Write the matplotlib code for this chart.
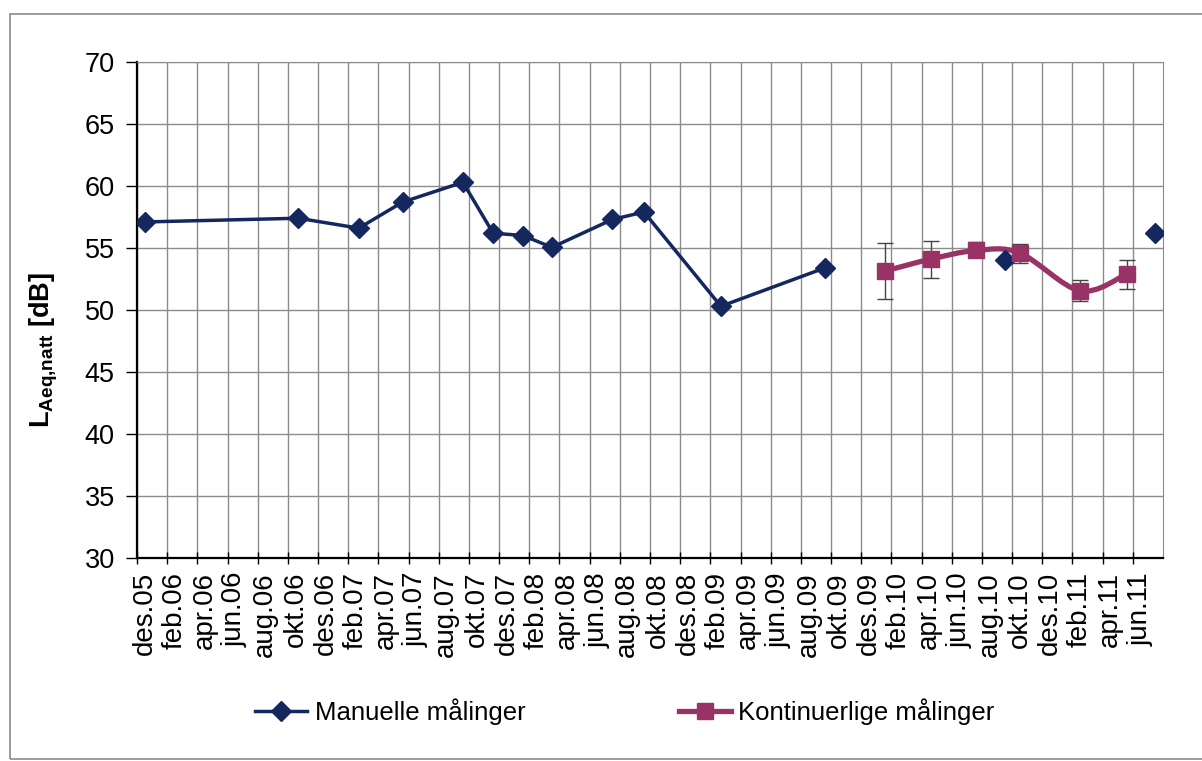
import numpy as np
import matplotlib
matplotlib.use('Agg')
import matplotlib.pyplot as plt
from matplotlib.path import Path
from matplotlib.patches import PathPatch, Rectangle
from matplotlib.lines import Line2D

plt.rcParams['font.family'] = ['Liberation Sans', 'DejaVu Sans']
plt.rcParams['mathtext.fontset'] = 'custom'
plt.rcParams['mathtext.bf'] = 'Liberation Sans:bold'
plt.rcParams['mathtext.rm'] = 'Liberation Sans'

# x = months since 1 Dec 2005
man_x = [0.5, 10.7, 14.7, 17.6, 21.6, 23.6, 25.6, 27.5, 31.5, 33.6, 38.7, 45.6, np.nan, 57.5, np.nan, 67.5]
man_y = [57.1, 57.4, 56.6, 58.7, 60.3, 56.2, 56.0, 55.05, 57.3, 57.9, 50.3, 53.4, np.nan, 54.0, np.nan, 56.2]

kont_x = [49.6, 52.6, 55.6, 58.5, 62.5, 65.6]
kont_y = [53.15, 54.1, 54.8, 54.6, 51.55, 52.9]
kont_hi = [55.4, 55.6, 55.5, 55.3, 52.4, 54.0]
kont_lo = [50.9, 52.6, 54.4, 53.8, 50.75, 51.7]

xlabels = ['des.05', 'feb.06', 'apr.06', 'jun.06', 'aug.06', 'okt.06',
           'des.06', 'feb.07', 'apr.07', 'jun.07', 'aug.07', 'okt.07',
           'des.07', 'feb.08', 'apr.08', 'jun.08', 'aug.08', 'okt.08',
           'des.08', 'feb.09', 'apr.09', 'jun.09', 'aug.09', 'okt.09',
           'des.09', 'feb.10', 'apr.10', 'jun.10', 'aug.10', 'okt.10',
           'des.10', 'feb.11', 'apr.11', 'jun.11']

blue = '#15275f'
plum = '#993366'

fig = plt.figure(figsize=[12.02, 7.61], dpi=100)
ax = fig.add_axes([137/1202, 1-558/761, 1026/1202, 496/761])

# outer chart frame
fig.patches.append(Rectangle((10/1202, 2/761), 1.05, 745/761, transform=fig.transFigure,
                             fill=False, ec='#8a8a8a', lw=1.2))

ax.set_xlim(0, 68)
ax.set_ylim(30, 70)
ax.set_yticks(np.arange(30, 71, 5))
ax.set_xticks(np.arange(0, 68, 2), minor=True)
ax.set_xticks(np.arange(0, 68, 2) + 0.5)
ax.set_xticklabels(xlabels, rotation=90)
ax.tick_params(axis='x', which='major', length=0, labelsize=20, pad=10)
ax.tick_params(axis='x', which='minor', length=8, direction='inout', width=1)
ax.tick_params(axis='y', labelsize=19.5, length=8, width=1, pad=8)
ax.grid(True, which='minor', axis='x', color='#8c8c8c', lw=1)
ax.grid(True, which='major', axis='y', color='#8c8c8c', lw=1)
ax.set_axisbelow(True)
for s in ['top', 'right']:
    ax.spines[s].set_color('#8c8c8c')
for s in ['left', 'bottom']:
    ax.spines[s].set_linewidth(1.6)

ax.set_ylabel(r'$\mathbf{L_{Aeq{,}natt}}$ [dB]', fontsize=19.5, fontweight='bold')
ax.yaxis.set_label_coords(-0.075, 0.42)

ax.plot(man_x, man_y, color=blue, lw=2.5, marker='D', ms=10.5, zorder=4)

# smoothed line through the continuous points (Catmull-Rom as bezier)
px = np.array(kont_x)
py = np.array(kont_y)
verts = [(px[0], py[0])]
codes = [Path.MOVETO]
n = len(px)
for i in range(n - 1):
    p0 = (px[max(i-1, 0)], py[max(i-1, 0)])
    p3 = (px[min(i+2, n-1)], py[min(i+2, n-1)])
    c1 = (px[i] + (px[i+1]-p0[0])/6, py[i] + (py[i+1]-p0[1])/6)
    c2 = (px[i+1] - (p3[0]-px[i])/6, py[i+1] - (p3[1]-py[i])/6)
    verts += [c1, c2, (px[i+1], py[i+1])]
    codes += [Path.CURVE4]*3
ax.add_patch(PathPatch(Path(verts, codes), fill=False, ec=plum, lw=3.8, zorder=3))

err = [np.array(kont_y) - np.array(kont_lo), np.array(kont_hi) - np.array(kont_y)]
ax.errorbar(kont_x, kont_y, yerr=err, fmt='none', ecolor='#444444', elinewidth=1,
            capsize=6, capthick=1, zorder=2)
ax.plot(kont_x, kont_y, ls='none', marker='s', ms=11, color=plum, zorder=5)

handles = [Line2D([], [], color=blue, lw=2.5, marker='D', ms=10.5),
           Line2D([], [], color=plum, lw=3.8, marker='s', ms=11)]
fig.legend(handles, ['Manuelle målinger', 'Kontinuerlige målinger'], ncol=2,
           loc='center', bbox_to_anchor=(0.52, 1-712/761), frameon=False,
           fontsize=18.5, handlelength=2.0, handletextpad=0.3, columnspacing=6.0)

fig.savefig('out.png', dpi=100)
